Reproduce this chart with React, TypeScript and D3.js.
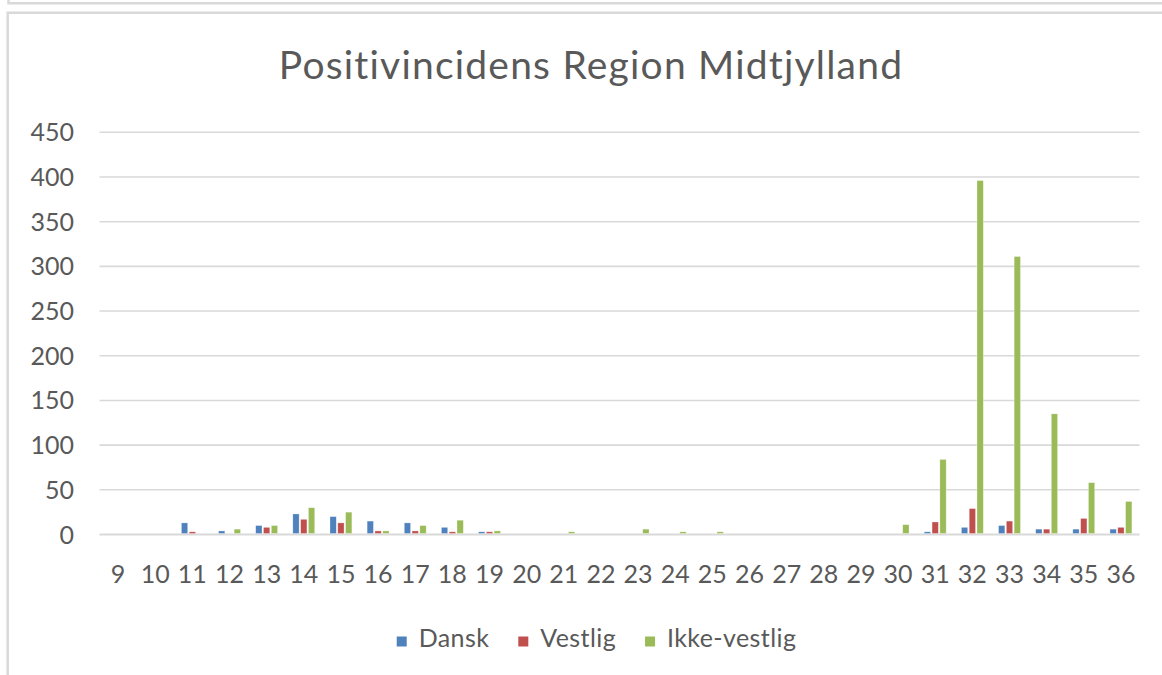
import React, { useEffect, useRef } from "react";
import * as d3 from "d3";

const weeks = [9, 10, 11, 12, 13, 14, 15, 16, 17, 18, 19, 20, 21, 22, 23, 24, 25, 26, 27, 28, 29, 30, 31, 32, 33, 34, 35, 36];
const dansk = [0, 0, 13, 4, 10, 23, 20, 15, 13, 8, 3, 0, 0, 0, 0, 0, 0, 0, 0, 0, 0, 0, 3, 8, 10, 6, 6, 6];
const vestlig = [0, 0, 3, 0, 8, 17, 13, 4, 4, 3, 3, 0, 0, 0, 0, 0, 0, 0, 0, 0, 0, 0, 14, 29, 15, 6, 18, 8];
const ikkeVestlig = [0, 0, 0, 6, 10, 30, 25, 4, 10, 16, 4, 0, 3, 0, 6, 3, 3, 0, 0, 0, 0, 11, 84, 396, 311, 135, 58, 37];
const seriesNames = ["Dansk", "Vestlig", "Ikke-vestlig"];
const seriesColors = ["#4f81bd", "#c0504d", "#9bbb59"];
const yTicks = [0, 50, 100, 150, 200, 250, 300, 350, 400, 450];
const title = "Positivincidens Region Midtjylland";

const W = 1162;
const H = 675;
const FONT = "Lato, 'Open Sans', sans-serif";
const TEXT = "#595959";
const GRID = "#d9d9d9";

export default function App() {
  const ref = useRef<SVGSVGElement | null>(null);

  useEffect(() => {
    const svg = d3.select(ref.current);
    svg.selectAll("*").remove();

    // frames
    svg.append("path")
      .attr("d", `M8.5,0 V3.3 H${W}`)
      .attr("fill", "none").attr("stroke", GRID).attr("stroke-width", 2.5);
    svg.append("path")
      .attr("d", `M7.7,${H} V12.8 H${W}`)
      .attr("fill", "none").attr("stroke", GRID).attr("stroke-width", 2.5);

    const x = d3.scaleBand<number>().domain(weeks).range([99.5, 1139.5]).paddingInner(0).paddingOuter(0);
    const y = d3.scaleLinear().domain([0, 450]).range([534.5, 132.3]);

    // title
    svg.append("text")
      .attr("x", 591).attr("y", 78.5)
      .attr("text-anchor", "middle")
      .attr("font-family", FONT).attr("font-size", 39)
      .attr("letter-spacing", 1.2)
      .attr("fill", TEXT)
      .text(title);

    // gridlines
    const g = svg.append("g");
    g.selectAll("line.grid")
      .data(yTicks)
      .join("line")
      .attr("x1", 99.5).attr("x2", 1139.5)
      .attr("y1", (d) => y(d)).attr("y2", (d) => y(d))
      .attr("stroke", GRID).attr("stroke-width", (d) => (d === 0 ? 2 : 1.6));

    // y labels
    g.selectAll("text.ytick")
      .data(yTicks)
      .join("text")
      .attr("x", 74).attr("y", (d) => y(d))
      .attr("dy", "0.36em")
      .attr("text-anchor", "end")
      .attr("font-family", FONT).attr("font-size", 25)
      .attr("fill", TEXT)
      .text((d) => String(d));

    // bars
    const series = [dansk, vestlig, ikkeVestlig];
    const barW = 6.3;
    const step = 7.8;
    const inner = d3.scaleBand<number>().domain([0, 1, 2]).range([-step * 1.5, step * 1.5]);
    series.forEach((vals, si) => {
      g.append("g")
        .selectAll("rect")
        .data(vals.map((v, i) => ({ v, w: weeks[i] })).filter((d) => d.v > 0))
        .join("rect")
        .attr("x", (d) => (x(d.w) as number) + x.bandwidth() / 2 + (inner(si) as number) + (step - barW) / 2)
        .attr("width", barW)
        .attr("y", (d) => y(d.v))
        .attr("height", (d) => y(0) - 1 - y(d.v))
        .attr("fill", seriesColors[si])
        .attr("stroke", "#ffffff").attr("stroke-opacity", 0.5).attr("stroke-width", 0.6);
    });

    // x labels
    g.selectAll("text.xtick")
      .data(weeks)
      .join("text")
      .attr("x", (d) => (x(d) as number) + x.bandwidth() / 2)
      .attr("y", 582.5)
      .attr("text-anchor", "middle")
      .attr("font-family", FONT).attr("font-size", 25)
      .attr("fill", TEXT)
      .text((d) => String(d));

    // legend
    const lg = svg.append("g");
    const items = seriesNames.map((name, i) => {
      const item = lg.append("g");
      item.append("rect").attr("width", 10).attr("height", 10).attr("y", 636.5).attr("fill", seriesColors[i]);
      const t = item.append("text")
        .attr("x", 22).attr("y", 646.5)
        .attr("font-family", FONT).attr("font-size", 25)
        .attr("letter-spacing", 0.4)
        .attr("fill", TEXT)
        .text(name);
      const tw = (t.node() as SVGTextElement).getComputedTextLength();
      return { item, w: 22 + tw };
    });
    const gap = 29;
    const total = d3.sum(items, (d) => d.w) + gap * (items.length - 1);
    let cx = 596.5 - total / 2;
    items.forEach((it) => {
      it.item.attr("transform", `translate(${cx},0)`);
      cx += it.w + gap;
    });
  }, []);

  return (
    <svg
      ref={ref}
      width={W}
      height={H}
      style={{ position: "absolute", left: 0, top: 0, background: "#fff" }}
    />
  );
}
